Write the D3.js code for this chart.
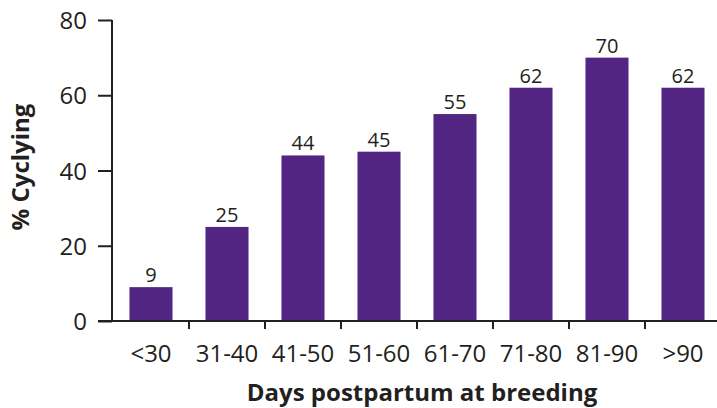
<!DOCTYPE html>
<html><head><meta charset="utf-8">
<script src="https://cdn.jsdelivr.net/npm/d3@7"></script>
<style>body{margin:0;background:#fff}svg{display:block}</style>
</head><body><svg id="c" width="717" height="408"></svg>
<script>
const categories = ["<30","31-40","41-50","51-60","61-70","71-80","81-90",">90"];
const values = [9,25,44,45,55,62,70,62];
const yTicks = [0,20,40,60,80];
const yTitle = "% Cyclying";
const xTitle = "Days postpartum at breeding";

const svg = d3.select("#c");
const font = "'Open Sans', sans-serif";
const ink = "#231f20";
const barColor = "#512581";

const x = d3.scaleBand().domain(categories).range([113, 721]).paddingInner(0.434).paddingOuter(0.217);
const y = d3.scaleLinear().domain([0, 80]).range([321, 20]);

// bars
svg.selectAll("rect.bar").data(values).join("rect")
  .attr("class","bar")
  .attr("x",(d,i)=>x(categories[i]))
  .attr("y",d=>y(d))
  .attr("width",x.bandwidth())
  .attr("height",d=>y(0)-y(d))
  .attr("fill",barColor);

// value labels
svg.selectAll("text.val").data(values).join("text")
  .attr("class","val")
  .attr("x",(d,i)=>x(categories[i])+x.bandwidth()/2)
  .attr("y",d=>y(d)-5)
  .attr("text-anchor","middle")
  .attr("font-family",font).attr("font-size",20).attr("fill",ink)
  .text(d=>d);

// y axis
const yAxis = svg.append("g").attr("transform","translate(112,0)")
  .call(d3.axisLeft(y).tickValues(yTicks).tickSize(14).tickPadding(11));
yAxis.select(".domain").attr("d", `M0,${y(80)}V${y(0)}`);
yAxis.selectAll("line,path").attr("stroke",ink).attr("stroke-width",2);
yAxis.selectAll("text").attr("font-family",font).attr("font-size",24).attr("fill",ink).attr("dy","0.36em");

// x axis: baseline and boundary ticks
const xAxis = svg.append("g").attr("transform",`translate(0,${y(0)})`)
  .call(d3.axisBottom(x).tickSize(0));
xAxis.select(".domain").attr("d","M98,0H717").attr("stroke",ink).attr("stroke-width",2);
xAxis.selectAll("text").attr("font-family",font).attr("font-size",24).attr("fill",ink)
  .attr("y",41).attr("dy",0);
const step = x.step();
svg.append("g").selectAll("line").data(categories.slice(1)).join("line")
  .attr("x1",d=>x(d)-x.paddingInner()*step/2).attr("x2",d=>x(d)-x.paddingInner()*step/2)
  .attr("y1",y(0)).attr("y2",y(0)+8)
  .attr("stroke",ink).attr("stroke-width",2);

// titles
svg.append("text").attr("x",422).attr("y",401).attr("text-anchor","middle")
  .attr("font-family",font).attr("font-weight","bold").attr("font-size",24).attr("fill",ink).text(xTitle);
svg.append("text").attr("transform","translate(29,167) rotate(-90)").attr("text-anchor","middle")
  .attr("font-family",font).attr("font-weight","bold").attr("font-size",24).attr("fill",ink).text(yTitle);
</script></body></html>
